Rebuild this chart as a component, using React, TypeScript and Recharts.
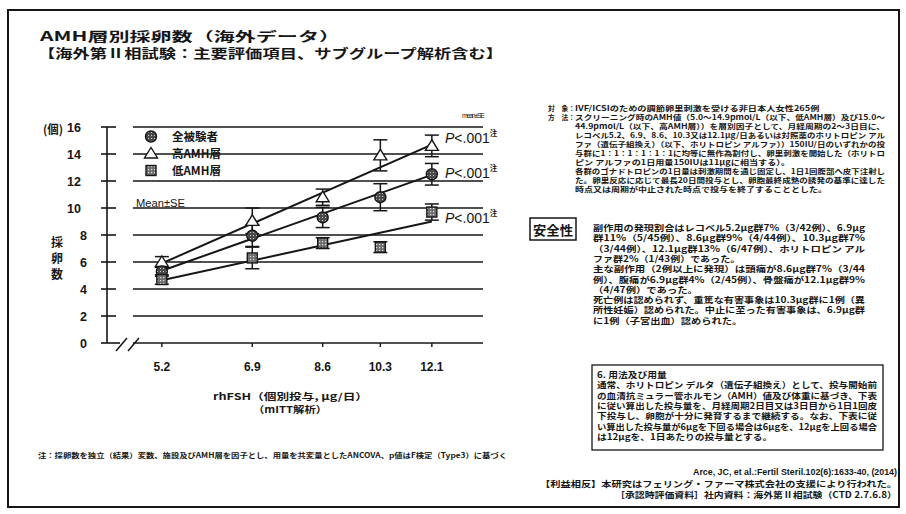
import React from 'react';
import {
  ComposedChart,
  Scatter,
  Line,
  XAxis,
  YAxis,
  ReferenceLine,
  ErrorBar,
  Legend,
} from 'recharts';

const JP = '"Noto Sans CJK JP", "Noto Sans", sans-serif';
const LAT = '"Liberation Sans", Arial, sans-serif';
const INK = '#161616';

// rhFSH dose groups (μg/day)
const doses = [5.2, 6.9, 8.6, 10.3, 12.1];
const yTicks = [0, 2, 4, 6, 8, 10, 12, 14, 16];

// oocytes retrieved per dose group: mean and SE
const allMean = [5.3, 7.95, 9.3, 10.8, 12.5];
const allSE = [0.35, 0.8, 0.75, 1.0, 0.8];
const highMean = [6.0, 9.05, 10.8, 13.9, 14.6];
const highSE = [0.4, 0.95, 0.6, 1.15, 0.8];
const lowMean = [4.7, 6.3, 7.4, 7.1, 9.7];
const lowSE = [0.35, 0.8, 0.4, 0.4, 0.6];

// fitted dose-response trend: value at the lowest and at the highest dose
const allFit = [5.35, 12.45];
const highFit = [5.9, 14.7];
const lowFit = [4.65, 9.0];

const seriesNames = ['全被験者', '高AMH層', '低AMH層'];
type Shape = 'circle' | 'triangle' | 'square';
const seriesShapes: Shape[] = ['circle', 'triangle', 'square'];

const pText = 'P<.001';

const titleLines = ['AMH層別採卵数（海外データ）', '【海外第Ⅱ相試験：主要評価項目、サブグループ解析含む】'];

const studyLabels = ['対　象：', '方　法：'];
const studyLines = [
  'IVF/ICSIのための調節卵巣刺激を受ける非日本人女性265例',
  'スクリーニング時のAMH値（5.0～14.9pmol/L（以下、低AMH層）及び15.0～',
  '44.9pmol/L（以下、高AMH層））を層別因子として、月経周期の2～3日目に、',
  'レコベル5.2、6.9、8.6、10.3又は12.1μg/日あるいは対照薬のホリトロピン アル',
  'ファ（遺伝子組換え）（以下、ホリトロピン アルファ））150IU/日のいずれかの投',
  '与群に1：1：1：1：1：1に均等に無作為割付し、卵巣刺激を開始した（ホリトロ',
  'ピン アルファの1日用量150IUは11μgに相当する）。',
  '各群のゴナドトロピンの1日量は刺激期間を通じ固定し、1日1回腹部へ皮下注射し',
  'た。卵巣反応に応じて最長20日間投与とし、卵胞最終成熟の誘発の基準に達した',
  '時点又は周期が中止された時点で投与を終了することとした。',
];

const safetyLines = [
  '副作用の発現割合はレコベル5.2μg群7%（3/42例）、6.9μg',
  '群11%（5/45例）、8.6μg群9%（4/44例）、10.3μg群7%',
  '（3/44例）、12.1μg群13%（6/47例）、ホリトロピン アル',
  'ファ群2%（1/43例）であった。',
  '主な副作用（2例以上に発現）は頭痛が8.6μg群7%（3/44',
  '例）、腹痛が6.9μg群4%（2/45例）、骨盤痛が12.1μg群9%',
  '（4/47例）であった。',
  '死亡例は認められず、重篤な有害事象は10.3μg群に1例（異',
  '所性妊娠）認められた。中止に至った有害事象は、6.9μg群',
  'に1例（子宮出血）認められた。',
];

const dosageLines = [
  '6. 用法及び用量',
  '通常、ホリトロピン デルタ（遺伝子組換え）として、投与開始前',
  'の血清抗ミュラー管ホルモン（AMH）値及び体重に基づき、下表',
  'に従い算出した投与量を、月経周期2日目又は3日目から1日1回皮',
  '下投与し、卵胞が十分に発育するまで継続する。なお、下表に従',
  'い算出した投与量が6μgを下回る場合は6μgを、12μgを上回る場合',
  'は12μgを、1日あたりの投与量とする。',
];

const footnote =
  '注：採卵数を独立（結果）変数、施設及びAMH層を因子とし、用量を共変量としたANCOVA、p値はF検定（Type3）に基づく';
const citation = 'Arce, JC, et al.:Fertil Steril.102(6):1633-40, (2014)';
const coi = '【利益相反】本研究はフェリング・ファーマ株式会社の支援により行われた。';
const source = '［承認時評価資料］社内資料：海外第Ⅱ相試験（CTD 2.7.6.8）';

const points = (mean: number[], se: number[]) =>
  doses.map((dose, i) => ({ dose, v: mean[i], e: se[i] }));
const trend = (fit: number[]) => [
  { dose: doses[0], v: fit[0] },
  { dose: doses[doses.length - 1], v: fit[1] },
];

const W = 906;
const H = 514;
const X_MIN = 4.38;
const X_MAX = 14.2;
const GRID_START = 4.75;

// rough advance width of a string in em (full-width glyphs = 1)
function emWidth(s: string) {
  let w = 0;
  for (const ch of s) {
    const c = ch.codePointAt(0) || 0;
    if (ch === ' ') w += 0.25;
    else if (ch === '.' || ch === ',' || ch === ':') w += 0.28;
    else if (c < 0x80) w += 0.56;
    else if (c >= 0x370 && c < 0x400) w += 0.6;
    else w += 1;
  }
  return w;
}

function Marker({ kind, cx, cy }: { kind: Shape; cx: number; cy: number }) {
  if (kind === 'circle') {
    return <circle cx={cx} cy={cy} r={5.5} fill="url(#stippleDark)" stroke={INK} strokeWidth={1.4} />;
  }
  if (kind === 'triangle') {
    return (
      <polygon
        points={`${cx},${cy - 6} ${cx - 6.5},${cy + 4.5} ${cx + 6.5},${cy + 4.5}`}
        fill="#fff"
        stroke={INK}
        strokeWidth={1.4}
      />
    );
  }
  return <rect x={cx - 5} y={cy - 5} width={10} height={10} fill="url(#stippleGrey)" stroke={INK} strokeWidth={1.4} />;
}

const YTick = (props: any) => {
  const { x, y, payload } = props;
  const v = payload.value as number;
  return (
    <g>
      <line x1={x - 6} x2={x + (v === 0 ? 13 : 9)} y1={y} y2={y} stroke={INK} strokeWidth={1.6} />
      <text
        x={x - (v >= 10 ? 26 : 20)}
        y={y}
        dy="0.36em"
        textAnchor="end"
        fontFamily={LAT}
        fontWeight={700}
        fontSize={12.5}
        fill={INK}
      >
        {v}
      </text>
    </g>
  );
};

const XTick = (props: any) => {
  const { x, y, payload } = props;
  return (
    <text x={x} y={y} dy="0.71em" textAnchor="middle" fontFamily={LAT} fontWeight={700} fontSize={12} fill={INK}>
      {payload.value}
    </text>
  );
};

const LegendBox = () => (
  <div style={{ fontFamily: JP, fontSize: 11.5, fontWeight: 700, color: INK }}>
    {seriesNames.map((n, i) => (
      <div key={n} style={{ display: 'flex', alignItems: 'center', height: 17 }}>
        <svg width={20} height={17} style={{ display: 'block' }}>
          <Marker kind={seriesShapes[i]} cx={10} cy={8.5} />
        </svg>
        <span style={{ marginLeft: 11, lineHeight: '17px', whiteSpace: 'nowrap' }}>{n}</span>
      </div>
    ))}
  </div>
);

type ParaProps = {
  lines: string[];
  x: number;
  y: number;
  dy: number;
  size: number;
  sx: number;
  width: number;
  shortRows: number[];
};

// Block of text lines: full rows are justified to the block width,
// paragraph-end rows keep the same horizontal stretch
function Para({ lines, x, y, dy, size, sx, width, shortRows }: ParaProps) {
  return (
    <g fontFamily={JP} fontSize={size} fontWeight={700} fill={INK}>
      {lines.map((t, i) => (
        <text
          key={i}
          x={x}
          y={y + i * dy}
          dominantBaseline="central"
          textLength={shortRows.includes(i) ? Math.min(width, emWidth(t) * size * sx) : width}
          lengthAdjust="spacingAndGlyphs"
        >
          {t}
        </text>
      ))}
    </g>
  );
}

function PLabel({ y }: { y: number }) {
  return (
    <text x={445} y={y} dominantBaseline="central" fontFamily={LAT} fontSize={14} fill={INK}>
      <tspan fontStyle="italic">{pText[0]}</tspan>
      <tspan>{pText.slice(1)}</tspan>
      <tspan fontFamily={JP} fontSize={7.5} fontWeight={700} dy={-6}>
        注
      </tspan>
    </text>
  );
}

export default function App() {
  const series = [
    { name: seriesNames[1], data: points(highMean, highSE), fit: trend(highFit), kind: seriesShapes[1] },
    { name: seriesNames[0], data: points(allMean, allSE), fit: trend(allFit), kind: seriesShapes[0] },
    { name: seriesNames[2], data: points(lowMean, lowSE), fit: trend(lowFit), kind: seriesShapes[2] },
  ];

  return (
    <div style={{ position: 'absolute', left: 0, top: 0, width: W, height: H, background: '#fff' }}>
      <div style={{ position: 'absolute', left: 0, top: 0 }}>
        <ComposedChart width={W} height={H} margin={{ top: 127, right: 423, bottom: 131, left: 47 }}>
          <defs>
            <pattern id="stippleDark" width="3" height="3" patternUnits="userSpaceOnUse">
              <rect width="3" height="3" fill="#4a4a4a" />
              <rect x="1" y="1" width="1" height="1" fill="#c8c8c8" />
            </pattern>
            <pattern id="stippleGrey" width="3" height="3" patternUnits="userSpaceOnUse">
              <rect width="3" height="3" fill="#6e6e6e" />
              <rect x="1" y="1" width="1.2" height="1.2" fill="#e0e0e0" />
            </pattern>
          </defs>
          <XAxis
            type="number"
            dataKey="dose"
            scale="log"
            domain={[X_MIN, X_MAX]}
            allowDataOverflow
            ticks={doses}
            interval={0}
            axisLine={false}
            tickLine={{ stroke: INK, strokeWidth: 1.4 }}
            tickSize={4}
            tickMargin={15}
            tick={<XTick />}
            height={40}
          />
          <YAxis
            type="number"
            domain={[0, 16]}
            ticks={yTicks}
            interval={0}
            width={60}
            axisLine={{ stroke: INK, strokeWidth: 1.6 }}
            tickLine={false}
            tickSize={0}
            tickMargin={0}
            tick={<YTick />}
          />
          {yTicks.map((t) => (
            <ReferenceLine
              key={t}
              segment={[
                { x: GRID_START, y: t },
                { x: X_MAX, y: t },
              ]}
              stroke={INK}
              strokeWidth={1.5}
              ifOverflow="visible"
            />
          ))}
          {series.map((s) => (
            <Line
              key={`fit-${s.name}`}
              data={s.fit}
              dataKey="v"
              stroke={INK}
              strokeWidth={2}
              dot={false}
              legendType="none"
              isAnimationActive={false}
            />
          ))}
          {series.map((s) => (
            <Scatter
              key={s.name}
              name={s.name}
              data={s.data}
              dataKey="v"
              isAnimationActive={false}
              shape={(p: any) => <Marker kind={s.kind} cx={p.cx} cy={p.cy} />}
            >
              <ErrorBar dataKey="e" direction="y" width={7} stroke={INK} strokeWidth={1.5} />
            </Scatter>
          ))}
          <Legend
            layout="vertical"
            align="center"
            verticalAlign="middle"
            wrapperStyle={{ left: 141, top: 128, width: 110 }}
            content={() => <LegendBox />}
          />
        </ComposedChart>
      </div>

      <svg
        width={W}
        height={H}
        style={{ position: 'absolute', left: 0, top: 0, pointerEvents: 'none' }}
      >
        <rect x={8} y={10} width={891} height={497} fill="none" stroke={INK} strokeWidth={2} />

        {/* title */}
        <g fontFamily={JP} fontWeight={700} fontSize={12.6} fill={INK}>
          <text x={40} y={35} dominantBaseline="central" textLength={300} lengthAdjust="spacingAndGlyphs">
            {titleLines[0]}
          </text>
          <text x={38} y={52.5} dominantBaseline="central" textLength={465} lengthAdjust="spacingAndGlyphs">
            {titleLines[1]}
          </text>
        </g>

        <text x={462} y={115} dominantBaseline="central" fontFamily={LAT} fontSize={7} fill={INK} textLength={23}>
          mean±SE
        </text>

        {/* axis titles */}
        <text
          x={43}
          y={128}
          dominantBaseline="central"
          fontFamily={JP}
          fontWeight={700}
          fontSize={12}
          fill={INK}
          textLength={20}
          lengthAdjust="spacingAndGlyphs"
        >
          (個)
        </text>
        <g fontFamily={JP} fontWeight={700} fontSize={12} fill={INK} textAnchor="middle">
          {['採', '卵', '数'].map((c, i) => (
            <text key={c} x={57} y={241 + i * 16} dominantBaseline="central">
              {c}
            </text>
          ))}
        </g>
        <text
          x={136}
          y={203}
          dominantBaseline="central"
          fontFamily={LAT}
          fontSize={10}
          fill={INK}
          textLength={49}
          lengthAdjust="spacingAndGlyphs"
        >
          Mean±SE
        </text>

        {/* axis break */}
        <g stroke={INK} strokeWidth={1.5}>
          <line x1={116} y1={351} x2={127} y2={338} />
          <line x1={128} y1={351} x2={139} y2={338} />
        </g>

        <PLabel y={138} />
        <PLabel y={172.5} />
        <PLabel y={218} />

        <g fontFamily={JP} fontWeight={700} fontSize={9.5} fill={INK}>
          <text x={213} y={396} dominantBaseline="central" textLength={155} lengthAdjust="spacingAndGlyphs">
            rhFSH（個別投与, μg/日）
          </text>
          <text x={253} y={409} dominantBaseline="central" textLength={74} lengthAdjust="spacingAndGlyphs">
            （mITT解析）
          </text>
        </g>

        <text
          x={38}
          y={455}
          dominantBaseline="central"
          fontFamily={JP}
          fontWeight={700}
          fontSize={7}
          fill={INK}
          textLength={469}
          lengthAdjust="spacingAndGlyphs"
        >
          {footnote}
        </text>

        {/* study outline */}
        <g fontFamily={JP} fontWeight={700} fontSize={7.2} fill={INK}>
          {studyLabels.map((l, i) => (
            <text
              key={l}
              x={548}
              y={108 + i * 9}
              dominantBaseline="central"
              textLength={27}
              lengthAdjust="spacingAndGlyphs"
            >
              {l}
            </text>
          ))}
        </g>
        <Para lines={studyLines} x={575} y={108} dy={9} size={7.2} sx={1.25} width={310} shortRows={[0, 6, 9]} />

        {/* safety */}
        <rect x={530} y={218} width={46} height={22} fill="none" stroke={INK} strokeWidth={1.5} />
        <text
          x={533}
          y={229}
          dominantBaseline="central"
          fontFamily={JP}
          fontWeight={700}
          fontSize={13}
          fill={INK}
          textLength={40}
          lengthAdjust="spacingAndGlyphs"
        >
          安全性
        </text>
        <Para lines={safetyLines} x={593} y={227} dy={10.3} size={8.4} sx={1.22} width={272} shortRows={[3, 6, 9]} />

        {/* dosage box */}
        <rect x={592} y={365} width={291} height={85} fill="none" stroke={INK} strokeWidth={1.3} />
        <Para lines={dosageLines} x={597} y={374} dy={10.3} size={8.4} sx={1.17} width={280} shortRows={[0, 6]} />

        {/* references */}
        <g fontWeight={700} fill={INK}>
          <text
            x={693}
            y={472}
            dominantBaseline="central"
            fontFamily={LAT}
            fontSize={8.5}
            textLength={204}
            lengthAdjust="spacingAndGlyphs"
          >
            {citation}
          </text>
          <text
            x={540}
            y={482.5}
            dominantBaseline="central"
            fontFamily={JP}
            fontSize={8.5}
            textLength={357}
            lengthAdjust="spacingAndGlyphs"
          >
            {coi}
          </text>
          <text
            x={615}
            y={494}
            dominantBaseline="central"
            fontFamily={JP}
            fontSize={8.5}
            textLength={282}
            lengthAdjust="spacingAndGlyphs"
          >
            {source}
          </text>
        </g>
      </svg>
    </div>
  );
}
